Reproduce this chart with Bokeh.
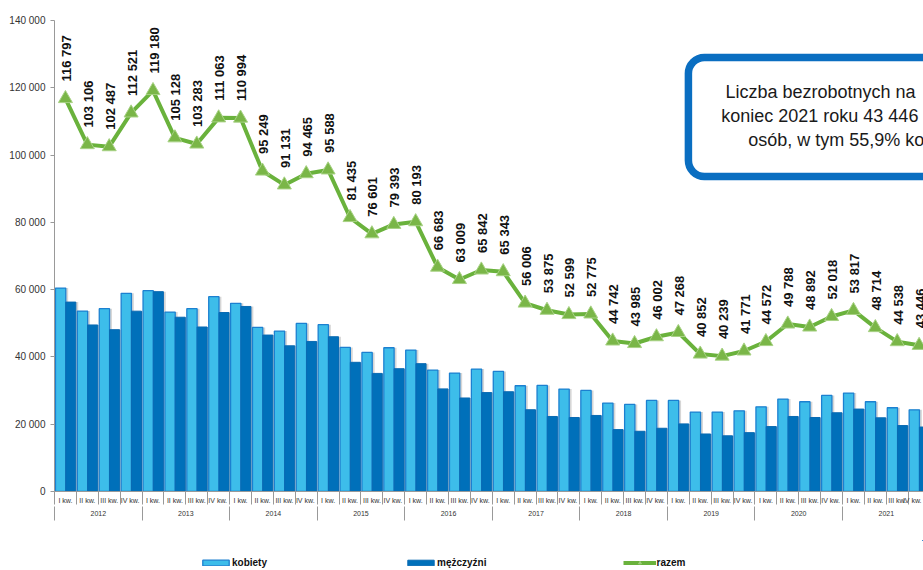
import numpy as np
from bokeh.plotting import figure
from bokeh.layouts import column
from bokeh.models import (ColumnDataSource, Range1d, FixedTicker, LinearAxis, Legend,
                          LegendItem, BoxAnnotation, Label, CustomJSTickFormatter)
from bokeh.core.properties import value
from bokeh.embed import file_html
from bokeh.resources import INLINE

# ---------------- data ----------------
years = ["2012", "2013", "2014", "2015", "2016", "2017", "2018", "2019", "2020", "2021"]
quarters = ["I kw.", "II kw.", "III kw.", "IV  kw."]
y_ticks = [0, 20000, 40000, 60000, 80000, 100000, 120000, 140000]

kobiety = [60480, 53640, 54330, 58900,
           59690, 53340, 54330, 57900,
           55920, 48780, 47690, 49970,
           49575, 42830, 41345, 42730,
           42040, 36090, 35200, 36390,
           35690, 31430, 31530, 30440,
           30040, 26275, 25880, 27070,
           27070, 23600, 23600, 23990,
           25180, 27460, 26670, 28550,
           29250, 26670, 24890, 24286]

mezczyzni = [56300, 49500, 48100, 53600,
             59400, 51800, 48900, 53200,
             55000, 46500, 43300, 44600,
             46000, 38400, 35100, 36500,
             38000, 30500, 27800, 29400,
             29650, 24300, 22300, 22000,
             22600, 18400, 17900, 18800,
             20100, 17100, 16550, 17500,
             19300, 22300, 22000, 23400,
             24500, 21900, 19600, 19160]

razem = [116797, 103106, 102487, 112521,
         119180, 105128, 103283, 111063,
         110994, 95249, 91131, 94465,
         95588, 81435, 76601, 79393,
         80193, 66683, 63009, 65842,
         65343, 56006, 53875, 52599,
         52775, 44742, 43985, 46002,
         47268, 40852, 40239, 41771,
         44572, 49788, 48892, 52018,
         53817, 48714, 44538, 43446]

series_names = ["kobiety", "mężczyźni", "razem"]
box_lines = ["Liczba bezrobotnych na", "koniec 2021 roku 43 446", "osób, w tym 55,9% kobiet"]

# ---------------- styles ----------------
FONT = "Liberation Sans"
C_K, C_K_LINE = "#3DBDEA", "#1C80D0"
C_M, C_M_LINE = "#0070BA", "#0A6AB2"
C_R, C_R_MARK, C_R_MARK_LINE = "#6AB23C", "#7AB648", "#A8D285"
AXIS_C = "#999999"

# ---------------- source ----------------
n = len(razem)
idx = np.arange(n)
src = ColumnDataSource(dict(
    xk=idx + 0.28, xm=idx + 0.745, xc=idx + 0.5,
    xks=idx + 0.28 + 0.11, xms=idx + 0.745 + 0.11,
    kobiety=kobiety, mezczyzni=mezczyzni, razem=razem,
    lbl=[f"{v:,}".replace(",", " ") for v in razem],
))

X_END = 39.7
p = figure(width=923, height=540, output_backend="svg", toolbar_location=None,
           x_range=Range1d(0, X_END), y_range=Range1d(0, 140000),
           x_axis_type=None, min_border_left=54, min_border_right=0,
           min_border_top=20, min_border_bottom=49)
p.grid.visible = False
p.outline_line_color = None
p.background_fill_color = "white"

# y axis
ya = p.yaxis[0]
ya.ticker = FixedTicker(ticks=y_ticks)
ya.formatter = CustomJSTickFormatter(code="return tick == 0 ? '0' : Math.round(tick).toString().replace(/\\B(?=(\\d{3})+(?!\\d))/g, ' ');")
ya.major_tick_out = 4
ya.major_tick_in = 0
ya.minor_tick_line_color = None
ya.axis_line_color = AXIS_C
ya.major_tick_line_color = AXIS_C
ya.major_label_standoff = 5
ya.major_label_text_font = FONT
ya.major_label_text_font_size = "10px"
ya.major_label_text_color = "#333333"

# x axis: quarters
q_bounds = [b for b in range(n + 1) if b <= X_END]
ax1 = LinearAxis(ticker=FixedTicker(ticks=list(idx + 0.5), minor_ticks=q_bounds),
                 formatter=CustomJSTickFormatter(args=dict(q=quarters), code="return q[Math.floor(tick) % 4];"))
ax1.major_tick_out = 0
ax1.major_tick_in = 0
ax1.minor_tick_out = 13
ax1.minor_tick_in = 0
ax1.minor_tick_line_color = AXIS_C
ax1.axis_line_color = AXIS_C
ax1.major_label_standoff = -8
ax1.major_label_text_font = FONT
ax1.major_label_text_font_size = "7px"
ax1.major_label_text_color = "#333333"
p.add_layout(ax1, "below")

# x axis: years
y_bounds = [4 * i for i in range(len(years) + 1) if 4 * i <= X_END]
ax2 = LinearAxis(ticker=FixedTicker(ticks=[4 * i + 2 for i in range(len(years))], minor_ticks=y_bounds),
                 formatter=CustomJSTickFormatter(args=dict(y=years), code="return y[Math.floor(tick / 4)];"))
ax2.axis_line_color = None
ax2.major_tick_out = 0
ax2.major_tick_in = 0
ax2.minor_tick_out = 14
ax2.minor_tick_in = 0
ax2.minor_tick_line_color = AXIS_C
ax2.major_label_standoff = -10
ax2.major_label_text_font = FONT
ax2.major_label_text_font_size = "7px"
ax2.major_label_text_color = "#333333"
p.add_layout(ax2, "below")

# shadows
p.vbar(x="xks", top="kobiety", width=0.47, source=src, fill_color="#000000", fill_alpha=0.16, line_color=None)
p.vbar(x="xms", top="mezczyzni", width=0.46, source=src, fill_color="#000000", fill_alpha=0.16, line_color=None)

p.vbar(x="xk", top="kobiety", width=0.47, source=src, fill_color=C_K, line_color=C_K_LINE, line_width=1.3)
p.vbar(x="xm", top="mezczyzni", width=0.46, source=src, fill_color=C_M, line_color=C_M_LINE, line_width=1)

p.line(x="xc", y="razem", source=src, line_color=C_R, line_width=4)
p.scatter(x="xc", y="razem", source=src, marker="triangle", size=14,
          fill_color=C_R_MARK, line_color=C_R_MARK_LINE, line_width=1)

p.text(x="xc", y="razem", text="lbl", source=src, angle=np.pi / 2,
       text_align="left", text_baseline="middle", y_offset=-17, x_offset=1,
       text_font=value(FONT), text_font_style="bold", text_font_size="13px", text_color="#111111")

# info box
box = BoxAnnotation(left=28.96, right=45, top=129000, bottom=93600,
                    fill_color="white", fill_alpha=1.0,
                    line_color="#0A6EC1", line_alpha=1.0, line_width=7.5, border_radius=16)
p.add_layout(box)
for txt, xx, yy in zip(box_lines, [30.65, 30.46, 31.69], [118620, 111488, 104355]):
    p.add_layout(Label(x=xx, y=yy, text=txt, text_font=FONT, text_font_size="18px",
                       text_color="#1a1a1a", text_align="left", text_baseline="alphabetic"))

# ---------------- legend strip ----------------
lg = figure(width=923, height=30, output_backend="svg", toolbar_location=None,
            x_range=Range1d(-100, -99), y_range=Range1d(-100, -99),
            x_axis_type=None, y_axis_type=None,
            min_border_left=0, min_border_right=0, min_border_top=0, min_border_bottom=0)
lg.grid.visible = False
lg.outline_line_color = None
lk = lg.vbar(x="xk", top="kobiety", width=0.47, source=src, fill_color=C_K, line_color=C_K_LINE, line_width=1.3)
lm = lg.vbar(x="xm", top="mezczyzni", width=0.46, source=src, fill_color=C_M, line_color=C_M_LINE, line_width=1)
ll = lg.line(x="xc", y="razem", source=src, line_color=C_R, line_width=4)
ls = lg.scatter(x="xc", y="razem", source=src, marker="triangle", size=14,
                fill_color=C_R_MARK, line_color=C_R_MARK_LINE, line_width=1)

legend = Legend(items=[LegendItem(label=series_names[0], renderers=[lk]),
                       LegendItem(label=series_names[1], renderers=[lm]),
                       LegendItem(label=series_names[2], renderers=[ll, ls])],
                orientation="horizontal", location=(145, 2), spacing=137,
                glyph_width=33, glyph_height=7, label_standoff=0, label_height=10,
                label_text_font=FONT, label_text_font_size="10px", label_text_font_style="bold",
                label_text_color="#111111",
                border_line_color=None, background_fill_alpha=0, padding=0, margin=0)
lg.add_layout(legend, "center")

layout = column(p, lg, spacing=0)
open("out.html", "w").write(file_html(layout, INLINE))
